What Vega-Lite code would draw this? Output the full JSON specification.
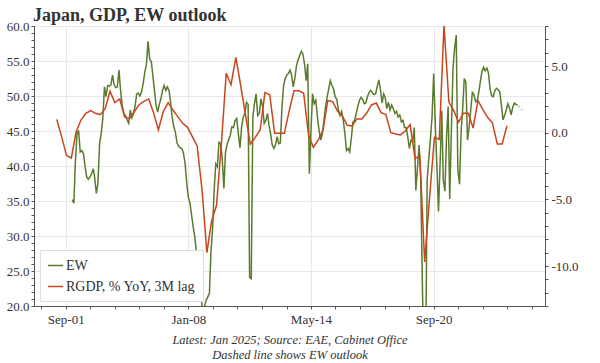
{
  "$schema": "https://vega.github.io/schema/vega-lite/v6.json",
  "autosize": "none",
  "width": 511,
  "height": 280,
  "padding": {"left": 34, "top": 26, "right": 55, "bottom": 57},
  "background": "white",
  "title": {"text": "Japan, GDP, EW outlook", "anchor": "start", "frame": "group", "font": "Liberation Serif", "fontSize": 18, "fontWeight": "bold", "color": "#333333", "offset": 6, "dx": -1, "dy": 11},
  "config": {
    "view": {"stroke": null},
    "font": "Liberation Serif",
    "axis": {"domainColor": "#555555", "tickColor": "#555555", "tickSize": 3, "labelFont": "Liberation Serif", "labelFontSize": 13, "labelColor": "#333333", "labelOverlap": false, "labelFlush": false}
  },
  "datasets": {
    "ew": [
      {"date":"2002-01-01","v":35.2},{"date":"2002-02-01","v":34.7},{"date":"2002-03-01","v":40.5},{"date":"2002-04-01","v":44.5},{"date":"2002-05-01","v":45.1},{"date":"2002-06-01","v":42.0},{"date":"2002-07-01","v":42.2},{"date":"2002-08-01","v":41.8},{"date":"2002-09-01","v":39.9},{"date":"2002-10-01","v":38.4},{"date":"2002-11-01","v":38.1},{"date":"2002-12-01","v":38.4},
      {"date":"2003-01-01","v":38.9},{"date":"2003-02-01","v":39.6},{"date":"2003-03-01","v":38.3},{"date":"2003-04-01","v":36.1},{"date":"2003-05-01","v":37.5},{"date":"2003-06-01","v":43.2},{"date":"2003-07-01","v":44.6},{"date":"2003-08-01","v":46.8},{"date":"2003-09-01","v":51.3},{"date":"2003-10-01","v":49.9},{"date":"2003-11-01","v":51.5},{"date":"2003-12-01","v":51.4},
      {"date":"2004-01-01","v":51.6},{"date":"2004-02-01","v":53.0},{"date":"2004-03-01","v":51.6},{"date":"2004-04-01","v":51.2},{"date":"2004-05-01","v":51.3},{"date":"2004-06-01","v":53.7},{"date":"2004-07-01","v":50.8},{"date":"2004-08-01","v":48.6},{"date":"2004-09-01","v":47.5},{"date":"2004-10-01","v":47.2},{"date":"2004-11-01","v":46.6},{"date":"2004-12-01","v":46.1},
      {"date":"2005-01-01","v":48.0},{"date":"2005-02-01","v":46.9},{"date":"2005-03-01","v":47.5},{"date":"2005-04-01","v":48.6},{"date":"2005-05-01","v":50.3},{"date":"2005-06-01","v":50.4},{"date":"2005-07-01","v":50.0},{"date":"2005-08-01","v":50.6},{"date":"2005-09-01","v":51.8},{"date":"2005-10-01","v":53.4},{"date":"2005-11-01","v":54.5},{"date":"2005-12-01","v":57.8},
      {"date":"2006-01-01","v":55.3},{"date":"2006-02-01","v":54.9},{"date":"2006-03-01","v":53.0},{"date":"2006-04-01","v":50.8},{"date":"2006-05-01","v":48.7},{"date":"2006-06-01","v":47.7},{"date":"2006-07-01","v":48.8},{"date":"2006-08-01","v":49.6},{"date":"2006-09-01","v":50.8},{"date":"2006-10-01","v":51.5},{"date":"2006-11-01","v":50.8},{"date":"2006-12-01","v":51.3},
      {"date":"2007-01-01","v":50.8},{"date":"2007-02-01","v":49.0},{"date":"2007-03-01","v":47.0},{"date":"2007-04-01","v":45.6},{"date":"2007-05-01","v":44.8},{"date":"2007-06-01","v":43.3},{"date":"2007-07-01","v":42.8},{"date":"2007-08-01","v":42.6},{"date":"2007-09-01","v":42.5},{"date":"2007-10-01","v":41.8},{"date":"2007-11-01","v":40.3},{"date":"2007-12-01","v":37.5},
      {"date":"2008-01-01","v":35.5},{"date":"2008-02-01","v":34.7},{"date":"2008-03-01","v":33.0},{"date":"2008-04-01","v":31.3},{"date":"2008-05-01","v":29.9},{"date":"2008-06-01","v":27.7},{"date":"2008-07-01","v":24.5},{"date":"2008-08-01","v":22.5},{"date":"2008-09-01","v":21.0},{"date":"2008-10-01","v":19.0},{"date":"2008-11-01","v":20.0},{"date":"2008-12-01","v":20.8},
      {"date":"2009-01-01","v":21.3},{"date":"2009-02-01","v":21.8},{"date":"2009-03-01","v":27.5},{"date":"2009-04-01","v":31.0},{"date":"2009-05-01","v":36.5},{"date":"2009-06-01","v":40.3},{"date":"2009-07-01","v":39.9},{"date":"2009-08-01","v":43.4},{"date":"2009-09-01","v":43.2},{"date":"2009-10-01","v":41.0},{"date":"2009-11-01","v":36.8},{"date":"2009-12-01","v":42.0},
      {"date":"2010-01-01","v":43.1},{"date":"2010-02-01","v":43.8},{"date":"2010-03-01","v":44.4},{"date":"2010-04-01","v":45.6},{"date":"2010-05-01","v":45.5},{"date":"2010-06-01","v":46.5},{"date":"2010-07-01","v":46.8},{"date":"2010-08-01","v":44.6},{"date":"2010-09-01","v":42.6},{"date":"2010-10-01","v":45.6},{"date":"2010-11-01","v":47.0},{"date":"2010-12-01","v":47.5},
      {"date":"2011-01-01","v":49.1},{"date":"2011-02-01","v":48.8},{"date":"2011-03-01","v":24.1},{"date":"2011-04-01","v":23.9},{"date":"2011-05-01","v":47.0},{"date":"2011-06-01","v":48.9},{"date":"2011-07-01","v":50.3},{"date":"2011-08-01","v":47.2},{"date":"2011-09-01","v":47.5},{"date":"2011-10-01","v":49.6},{"date":"2011-11-01","v":48.5},{"date":"2011-12-01","v":46.1},
      {"date":"2012-01-01","v":46.5},{"date":"2012-02-01","v":47.5},{"date":"2012-03-01","v":45.8},{"date":"2012-04-01","v":44.6},{"date":"2012-05-01","v":43.0},{"date":"2012-06-01","v":42.5},{"date":"2012-07-01","v":43.0},{"date":"2012-08-01","v":44.2},{"date":"2012-09-01","v":43.2},{"date":"2012-10-01","v":43.3},{"date":"2012-11-01","v":48.5},{"date":"2012-12-01","v":51.5},
      {"date":"2013-01-01","v":52.5},{"date":"2013-02-01","v":53.0},{"date":"2013-03-01","v":53.2},{"date":"2013-04-01","v":53.7},{"date":"2013-05-01","v":53.0},{"date":"2013-06-01","v":51.3},{"date":"2013-07-01","v":52.5},{"date":"2013-08-01","v":54.3},{"date":"2013-09-01","v":55.2},{"date":"2013-10-01","v":55.8},{"date":"2013-11-01","v":56.4},{"date":"2013-12-01","v":56.0},
      {"date":"2014-01-01","v":54.5},{"date":"2014-02-01","v":52.2},{"date":"2014-03-01","v":54.6},{"date":"2014-04-01","v":38.9},{"date":"2014-05-01","v":45.0},{"date":"2014-06-01","v":50.3},{"date":"2014-07-01","v":48.9},{"date":"2014-08-01","v":49.4},{"date":"2014-09-01","v":47.0},{"date":"2014-10-01","v":45.1},{"date":"2014-11-01","v":43.7},{"date":"2014-12-01","v":44.6},
      {"date":"2015-01-01","v":46.5},{"date":"2015-02-01","v":48.5},{"date":"2015-03-01","v":49.8},{"date":"2015-04-01","v":51.0},{"date":"2015-05-01","v":52.2},{"date":"2015-06-01","v":51.5},{"date":"2015-07-01","v":51.0},{"date":"2015-08-01","v":49.9},{"date":"2015-09-01","v":49.5},{"date":"2015-10-01","v":48.0},{"date":"2015-11-01","v":47.2},{"date":"2015-12-01","v":47.8},
      {"date":"2016-01-01","v":46.5},{"date":"2016-02-01","v":44.6},{"date":"2016-03-01","v":42.2},{"date":"2016-04-01","v":42.5},{"date":"2016-05-01","v":42.0},{"date":"2016-06-01","v":44.0},{"date":"2016-07-01","v":46.3},{"date":"2016-08-01","v":46.5},{"date":"2016-09-01","v":47.5},{"date":"2016-10-01","v":48.5},{"date":"2016-11-01","v":49.4},{"date":"2016-12-01","v":49.8},
      {"date":"2017-01-01","v":49.5},{"date":"2017-02-01","v":48.9},{"date":"2017-03-01","v":49.0},{"date":"2017-04-01","v":49.9},{"date":"2017-05-01","v":50.5},{"date":"2017-06-01","v":50.8},{"date":"2017-07-01","v":50.5},{"date":"2017-08-01","v":50.2},{"date":"2017-09-01","v":50.3},{"date":"2017-10-01","v":51.3},{"date":"2017-11-01","v":52.3},{"date":"2017-12-01","v":51.0},
      {"date":"2018-01-01","v":49.0},{"date":"2018-02-01","v":50.3},{"date":"2018-03-01","v":49.8},{"date":"2018-04-01","v":48.2},{"date":"2018-05-01","v":49.1},{"date":"2018-06-01","v":48.0},{"date":"2018-07-01","v":48.7},{"date":"2018-08-01","v":48.2},{"date":"2018-09-01","v":47.5},{"date":"2018-10-01","v":47.8},{"date":"2018-11-01","v":47.0},{"date":"2018-12-01","v":47.3},
      {"date":"2019-01-01","v":46.3},{"date":"2019-02-01","v":46.5},{"date":"2019-03-01","v":45.5},{"date":"2019-04-01","v":45.5},{"date":"2019-05-01","v":44.2},{"date":"2019-06-01","v":42.5},{"date":"2019-07-01","v":43.7},{"date":"2019-08-01","v":43.5},{"date":"2019-09-01","v":45.5},{"date":"2019-10-01","v":36.5},{"date":"2019-11-01","v":39.8},{"date":"2019-12-01","v":43.0},
      {"date":"2020-01-01","v":38.0},{"date":"2020-02-01","v":23.0},{"date":"2020-03-01","v":12.0},{"date":"2020-04-01","v":10.0},{"date":"2020-05-01","v":38.0},{"date":"2020-06-01","v":41.0},{"date":"2020-07-01","v":43.8},{"date":"2020-08-01","v":47.0},{"date":"2020-09-01","v":53.2},{"date":"2020-10-01","v":46.0},{"date":"2020-11-01","v":40.0},{"date":"2020-12-01","v":33.5},
      {"date":"2021-01-01","v":40.5},{"date":"2021-02-01","v":47.9},{"date":"2021-03-01","v":38.0},{"date":"2021-04-01","v":36.4},{"date":"2021-05-01","v":44.0},{"date":"2021-06-01","v":48.5},{"date":"2021-07-01","v":35.3},{"date":"2021-08-01","v":45.0},{"date":"2021-09-01","v":54.0},{"date":"2021-10-01","v":56.8},{"date":"2021-11-01","v":58.7},{"date":"2021-12-01","v":39.5},
      {"date":"2022-01-01","v":37.4},{"date":"2022-02-01","v":45.0},{"date":"2022-03-01","v":48.0},{"date":"2022-04-01","v":52.5},{"date":"2022-05-01","v":52.0},{"date":"2022-06-01","v":43.7},{"date":"2022-07-01","v":45.5},{"date":"2022-08-01","v":48.0},{"date":"2022-09-01","v":50.5},{"date":"2022-10-01","v":50.2},{"date":"2022-11-01","v":49.2},{"date":"2022-12-01","v":49.3},
      {"date":"2023-01-01","v":50.6},{"date":"2023-02-01","v":52.2},{"date":"2023-03-01","v":53.5},{"date":"2023-04-01","v":54.1},{"date":"2023-05-01","v":53.6},{"date":"2023-06-01","v":54.0},{"date":"2023-07-01","v":53.3},{"date":"2023-08-01","v":51.0},{"date":"2023-09-01","v":50.0},{"date":"2023-10-01","v":49.9},{"date":"2023-11-01","v":50.8},{"date":"2023-12-01","v":51.1},
      {"date":"2024-01-01","v":50.9},{"date":"2024-02-01","v":50.6},{"date":"2024-03-01","v":48.7},{"date":"2024-04-01","v":46.6},{"date":"2024-05-01","v":47.2},{"date":"2024-06-01","v":48.0},{"date":"2024-07-01","v":48.9},{"date":"2024-08-01","v":48.3},{"date":"2024-09-01","v":47.3},{"date":"2024-10-01","v":48.4},{"date":"2024-11-01","v":49.0},{"date":"2024-12-01","v":48.8},
      {"date":"2025-01-01","v":48.7}
    ],
    "outlook": [
      {"date":"2025-01-01","v":48.7},{"date":"2025-04-01","v":48.0}
    ],
    "rgdp": [
      {"date":"2001-03-15","v":1.0},{"date":"2001-06-15","v":-0.3},{"date":"2001-09-15","v":-1.7},{"date":"2001-12-15","v":-1.9},
      {"date":"2002-03-15","v":0.05},{"date":"2002-06-15","v":0.95},{"date":"2002-09-15","v":1.45},{"date":"2002-12-15","v":1.65},
      {"date":"2003-03-15","v":1.45},{"date":"2003-06-15","v":1.35},{"date":"2003-09-15","v":1.8},{"date":"2003-12-15","v":3.1},
      {"date":"2004-03-15","v":2.25},{"date":"2004-06-15","v":2.53},{"date":"2004-09-15","v":1.18},{"date":"2004-12-15","v":1.05},
      {"date":"2005-03-15","v":1.55},{"date":"2005-06-15","v":2.1},{"date":"2005-09-15","v":2.35},{"date":"2005-12-15","v":2.53},
      {"date":"2006-03-15","v":1.5},{"date":"2006-06-15","v":0.2},{"date":"2006-09-15","v":1.58},{"date":"2006-12-15","v":2.25},
      {"date":"2007-03-15","v":1.7},{"date":"2007-06-15","v":1.2},{"date":"2007-09-15","v":0.7},{"date":"2007-12-15","v":0.4},
      {"date":"2008-03-15","v":-0.3},{"date":"2008-06-15","v":-1.0},{"date":"2008-09-15","v":-4.3},{"date":"2008-12-15","v":-9.0},
      {"date":"2009-03-15","v":-6.6},{"date":"2009-06-15","v":-5.45},{"date":"2009-09-15","v":-0.8},{"date":"2009-12-15","v":4.45},
      {"date":"2010-03-15","v":3.6},{"date":"2010-06-15","v":5.65},{"date":"2010-09-15","v":3.5},{"date":"2010-12-15","v":1.3},
      {"date":"2011-03-15","v":-0.85},{"date":"2011-06-15","v":-0.35},{"date":"2011-09-15","v":0.2},{"date":"2011-12-15","v":3.0},
      {"date":"2012-03-15","v":2.85},{"date":"2012-06-15","v":-0.05},{"date":"2012-09-15","v":-0.05},{"date":"2012-12-15","v":-0.05},
      {"date":"2013-03-15","v":1.6},{"date":"2013-06-15","v":3.15},{"date":"2013-09-15","v":3.15},{"date":"2013-12-15","v":2.95},
      {"date":"2014-03-15","v":-0.15},{"date":"2014-06-15","v":-1.1},{"date":"2014-09-15","v":-0.55},{"date":"2014-12-15","v":0.2},
      {"date":"2015-03-15","v":2.42},{"date":"2015-06-15","v":2.33},{"date":"2015-09-15","v":1.6},{"date":"2015-12-15","v":1.25},
      {"date":"2016-03-15","v":0.55},{"date":"2016-06-15","v":0.5},{"date":"2016-09-15","v":1.03},{"date":"2016-12-15","v":1.03},
      {"date":"2017-03-15","v":1.45},{"date":"2017-06-15","v":2.08},{"date":"2017-09-15","v":2.22},{"date":"2017-12-15","v":1.5},
      {"date":"2018-03-15","v":1.35},{"date":"2018-06-15","v":0.0},{"date":"2018-09-15","v":-0.1},{"date":"2018-12-15","v":-0.17},
      {"date":"2019-03-15","v":0.12},{"date":"2019-06-15","v":0.6},{"date":"2019-09-15","v":-1.95},{"date":"2019-12-15","v":-1.75},
      {"date":"2020-03-15","v":-9.7},{"date":"2020-06-15","v":-4.9},{"date":"2020-09-15","v":-0.35},{"date":"2020-12-15","v":-0.5},
      {"date":"2021-03-15","v":8.05},{"date":"2021-06-15","v":2.3},{"date":"2021-09-15","v":1.65},{"date":"2021-12-15","v":0.8},
      {"date":"2022-03-15","v":1.45},{"date":"2022-06-15","v":1.45},{"date":"2022-09-15","v":0.35},{"date":"2022-12-15","v":2.42},
      {"date":"2023-03-15","v":1.75},{"date":"2023-06-15","v":1.15},{"date":"2023-09-15","v":0.72},{"date":"2023-12-15","v":-0.85},
      {"date":"2024-03-15","v":-0.85},{"date":"2024-06-15","v":0.52}
    ]
  },
  "encoding": {
    "x": {
      "field": "date",
      "type": "temporal",
      "scale": {"domain": [{"year": 2000, "month": 1, "date": 11}, {"year": 2026, "month": 6, "date": 2}]},
      "axis": {
        "values": [
          {"year":2000,"month":5,"date":26},{"year":2001,"month":9,"date":1},{"year":2002,"month":12,"date":7},{"year":2004,"month":3,"date":13},{"year":2005,"month":6,"date":19},{"year":2006,"month":9,"date":25},
          {"year":2008,"month":1,"date":1},{"year":2009,"month":4,"date":7},{"year":2010,"month":7,"date":13},{"year":2011,"month":10,"date":19},{"year":2013,"month":1,"date":25},
          {"year":2014,"month":5,"date":1},{"year":2015,"month":8,"date":7},{"year":2016,"month":11,"date":13},{"year":2018,"month":2,"date":19},{"year":2019,"month":5,"date":25},
          {"year":2020,"month":9,"date":1},{"year":2021,"month":12,"date":7},{"year":2023,"month":3,"date":13},{"year":2024,"month":6,"date":19},{"year":2025,"month":9,"date":25}
        ],
        "format": "%b-%y",
        "labelExpr": "indexof(['Sep-01','Jan-08','May-14','Sep-20'], timeFormat(datum.value, '%b-%y')) >= 0 ? timeFormat(datum.value, '%b-%y') : ''",
        "grid": true,
        "gridColor": {"condition": {"test": "indexof(['Sep-01','Jan-08','May-14','Sep-20'], timeFormat(datum.value, '%b-%y')) >= 0", "value": "#e8e8e8"}, "value": "transparent"},
        "labelPadding": 4,
        "title": ["Latest: Jan 2025; Source: EAE, Cabinet Office", "Dashed line shows EW outlook"],
        "titleFont": "Liberation Serif",
        "titleFontStyle": "italic",
        "titleFontWeight": "normal",
        "titleFontSize": 12.5,
        "titleColor": "#333333",
        "titlePadding": 7,
        "titleLineHeight": 15.5
      }
    }
  },
  "layer": [
    {
      "encoding": {
        "y": {
          "field": "v",
          "type": "quantitative",
          "scale": {"domain": [20, 60], "nice": false, "zero": false},
          "axis": {
            "orient": "left",
            "values": [20,21,22,23,24,25,26,27,28,29,30,31,32,33,34,35,36,37,38,39,40,41,42,43,44,45,46,47,48,49,50,51,52,53,54,55,56,57,58,59,60],
            "labelExpr": "datum.value % 5 == 0 ? format(datum.value, '.1f') : ''",
            "grid": true,
            "gridColor": {"condition": {"test": "datum.value % 5 == 0", "value": "#e8e8e8"}, "value": "transparent"},
            "labelPadding": 2,
            "title": null
          }
        }
      },
      "layer": [
        {
          "data": {"name": "ew"},
          "mark": {"type": "line", "strokeWidth": 1.5, "clip": true},
          "encoding": {
            "color": {
              "datum": "EW",
              "scale": {"domain": ["EW", "RGDP, % YoY, 3M lag"], "range": ["#5a7a2d", "#c8461b"]},
              "legend": {
                "orient": "none", "legendX": 6, "legendY": 224, "title": null,
                "fillColor": "white", "strokeColor": "#dddddd", "padding": 7,
                "labelFont": "Liberation Serif", "labelFontSize": 14, "labelColor": "#333333",
                "symbolType": "stroke", "symbolSize": 225, "symbolStrokeWidth": 1.5,
                "rowPadding": 5, "labelOffset": 2
              }
            }
          }
        },
        {
          "data": {"name": "outlook"},
          "mark": {"type": "line", "strokeWidth": 1.3, "strokeDash": [3, 2], "color": "#b3c29e", "clip": true},
          "encoding": {}
        }
      ]
    },
    {
      "data": {"name": "rgdp"},
      "mark": {"type": "line", "strokeWidth": 1.5, "clip": true},
      "encoding": {
        "y": {
          "field": "v",
          "type": "quantitative",
          "scale": {"domain": [-13, 8], "nice": false, "zero": false},
          "axis": {
            "orient": "right",
            "values": [-13,-12,-11,-10,-9,-8,-7,-6,-5,-4,-3,-2,-1,0,1,2,3,4,5,6,7,8],
            "labelExpr": "datum.value % 5 == 0 ? datum.value + '.0' : ''",
            "grid": false,
            "labelPadding": 3,
            "title": null
          }
        },
        "color": {"datum": "RGDP, % YoY, 3M lag"}
      }
    }
  ],
  "resolve": {"scale": {"y": "independent"}, "axis": {"y": "independent"}}
}
